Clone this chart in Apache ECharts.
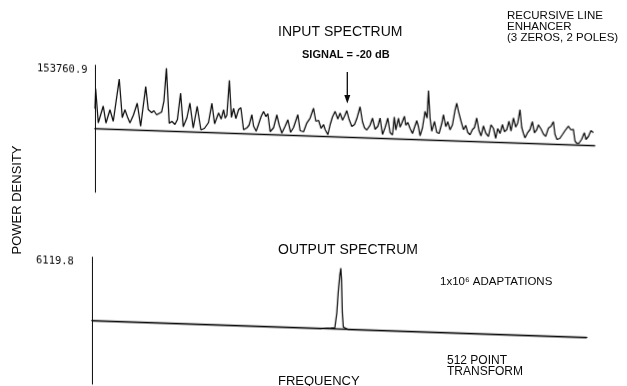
<!DOCTYPE html>
<html>
<head>
<meta charset="utf-8">
<script src="https://cdn.jsdelivr.net/npm/echarts@6/dist/echarts.min.js"></script>
<style>
html,body{margin:0;padding:0;background:#fff;}
#wrap{position:relative;width:627px;height:386px;overflow:hidden;background:#fff;}
#plot{position:absolute;left:0;top:0;width:627px;height:386px;transform-origin:0 0;transform:skewY(1.95deg);}
#txt{position:absolute;left:0;top:0;width:627px;height:386px;pointer-events:none;}
</style>
</head>
<body>
<div id="wrap"><div id="plot"></div><div id="txt"></div></div>
<script>
// ---- Input spectrum (frequency position, power density) ----
const inputFreq = [0,0.7,3.3,8.3,11,15,18.3,24.3,27.3,30,32.5,35,38.5,42.3,45.7,50.8,53.3,56.7,59,61.7,
66.7,69,71.5,74.3,77,80,82.5,85.7,88.3,92,95,98.3,102.3,104,106,109.5,113.6,117,119.7,123.7,
126.3,128.7,130.3,132,134.5,136.5,138.7,141,143.7,146,148.7,152,154.3,157,158.7,161.3,163.7,166.3,168.7,171,
173,175.3,178.7,182,184.3,187,190.3,193,195.7,198.7,200.3,203,205.3,208.7,212,215.3,218.7,221,223.7,226.3,
228.7,230.3,233,235.3,237.7,240.3,243,245.3,247.7,249.7,252,254.3,257,259.7,262,265.3,267.7,269.7,272,275.3,
277.7,280.3,283,285.3,287.7,290.3,293,295.3,297.7,299.5,301,303.7,305.3,307,309.7,311,313,315.3,317.7,320.3,
322,323.7,325.3,327.7,330.3,332.3,333.7,335.3,337,339.7,342,344.3,347,348.7,351,353,355.3,357.7,360.3,362,
363.7,366.3,368.7,371,373,375.3,377.7,379.7,382,384.3,386.3,388.7,391,393.7,396.3,398.7,401,403,405.3,407.7,
409.7,412,414.3,416.3,418.7,421,423,425.3,427,428.7,430.3,433,435.3,437.7,439.7,442,443.7,446.3,448.7,451,
453.7,456.3,458.7,460.3,462.3,465,467.7,470.3,473.7,476.3,478.7,480.3,482,484.3,487,489.7,491.3,493.7,496.3,498.7];
const inputPower = [48400,96700,14500,55600,14500,47200,19300,122100,29000,48400,31400,16900,36300,65300,9700,106400,50800,43500,48400,38700,
45900,72500,152300,19300,24200,16900,29000,93300,12100,33900,70100,9700,62900,36300,6000,9700,24200,71300,21800,48400,
33900,56600,36300,43500,128200,38700,60500,36300,58000,62900,9700,14500,21800,46900,19300,7300,24200,43500,55600,43500,
50800,7300,16900,48400,24200,4800,21800,37700,7300,19300,21800,50800,12100,9700,31400,43500,67700,36300,38700,19300,
29000,16900,4800,29000,48400,61700,43500,58000,41100,50800,64600,43500,26600,31400,45900,75000,38700,24200,19300,31400,
48400,21800,29000,49300,9700,26600,50100,14500,9700,53200,21800,50800,29000,38700,55600,33900,41100,26600,14500,33900,
45900,31400,9700,29000,69400,53200,119900,53200,21800,45900,19300,16900,41100,62900,33900,45900,26600,38700,75000,91900,
72500,48400,28000,38700,21800,16400,29000,33900,57500,26600,14500,38700,21800,13800,42300,33900,9700,33900,21800,43500,
26600,31400,52200,29000,60500,38700,48400,81200,38700,24200,13300,26600,33900,53200,26600,33900,45900,36300,24200,18400,
38700,43500,54900,24200,12100,14500,24200,33900,45200,36300,37700,9700,4800,4800,14500,30700,14500,21800,36300,31400];

// ---- Output spectrum ----
const outputFreq  = [0,230,239,241,243,245,246.5,248,249,249.7,250.5,251.5,253,256,495];
const outputPower = [0,0,60,0,100,1540,3660,5200,5870,4800,1600,200,150,0,0];

// ---- Axis scale labels ----
const inputMax = 153760.9;
const outputMax = 6119.8;

const pairs = (xs, ys) => xs.map((x, i) => [x, ys[i]]);
const ink = '#0a0a0a';

const plot = echarts.init(document.getElementById('plot'), null, {renderer: 'canvas'});
const yLabel = (m, margin) => ({
  show: true, align: 'left', verticalAlign: 'top', margin: margin,
  fontFamily: 'DejaVu Sans Mono', fontSize: 10.5, color: ink,
  formatter: v => (v > 0 ? m.toFixed(1) : '')
});
plot.setOption({
  animation: false,
  backgroundColor: 'transparent',
  grid: [
    {left: 95, top: 62, width: 500, height: 127},
    {left: 92, top: 254, width: 495, height: 127}
  ],
  xAxis: [
    {gridIndex: 0, type: 'value', min: 0, max: 500, axisLine: {show: true, onZero: true, lineStyle: {color: ink, width: 1.4}},
     axisTick: {show: false}, axisLabel: {show: false}, splitLine: {show: false}},
    {gridIndex: 1, type: 'value', min: 0, max: 495, axisLine: {show: true, onZero: true, lineStyle: {color: ink, width: 1.4}},
     axisTick: {show: false}, axisLabel: {show: false}, splitLine: {show: false}}
  ],
  yAxis: [
    {gridIndex: 0, type: 'value', min: -inputMax, max: inputMax, interval: inputMax,
     axisLine: {show: true, onZero: false, lineStyle: {color: ink, width: 1}}, axisTick: {show: false},
     splitLine: {show: false}, axisLabel: yLabel(inputMax, 58)},
    {gridIndex: 1, type: 'value', min: -outputMax, max: outputMax, interval: outputMax,
     axisLine: {show: true, onZero: false, lineStyle: {color: ink, width: 1}}, axisTick: {show: false},
     splitLine: {show: false}, axisLabel: yLabel(outputMax, 56)}
  ],
  series: [
    {type: 'line', xAxisIndex: 0, yAxisIndex: 0, data: pairs(inputFreq, inputPower), showSymbol: false,
     lineStyle: {color: ink, width: 1.25}, clip: false},
    {type: 'line', xAxisIndex: 1, yAxisIndex: 1, data: pairs(outputFreq, outputPower), showSymbol: false,
     lineStyle: {color: ink, width: 1.25}, clip: false}
  ]
});

const txt = echarts.init(document.getElementById('txt'), null, {renderer: 'canvas'});
const font = 'Liberation Sans';
const T = (text, x, y, size, extra) => Object.assign({
  type: 'text', x: x, y: y,
  style: Object.assign({text: text, fontFamily: font, fontSize: size, fill: ink, align: 'left', verticalAlign: 'middle'}, extra || {})
});
txt.setOption({
  animation: false,
  backgroundColor: 'transparent',
  graphic: [
    T('INPUT SPECTRUM', 278, 32.5, 14),
    T('SIGNAL = -20 dB', 302, 55, 11, {fontWeight: 'bold'}),
    T('RECURSIVE LINE', 507, 16, 11.5),
    T('ENHANCER', 507, 26.5, 11.5),
    T('(3 ZEROS, 2 POLES)', 507, 37.5, 11.5),
    {type: 'text', x: 17, y: 200, rotation: Math.PI / 2,
     style: {text: 'POWER DENSITY', fontFamily: font, fontSize: 13, fill: ink, align: 'center', verticalAlign: 'middle'}},
    T('OUTPUT SPECTRUM', 278, 250, 14),
    T('1x10\u2076 ADAPTATIONS', 440, 282, 11.5),
    T('512 POINT', 447, 360.5, 12),
    T('TRANSFORM', 447, 371.5, 12),
    T('FREQUENCY', 278, 381.5, 13),
    {type: 'line', shape: {x1: 347.3, y1: 72, x2: 347.3, y2: 97}, style: {stroke: ink, lineWidth: 1.3}},
    {type: 'polygon', shape: {points: [[344.3, 95], [350.3, 95], [347.3, 103.5]]}, style: {fill: ink}}
  ]
});
</script>
</body>
</html>
